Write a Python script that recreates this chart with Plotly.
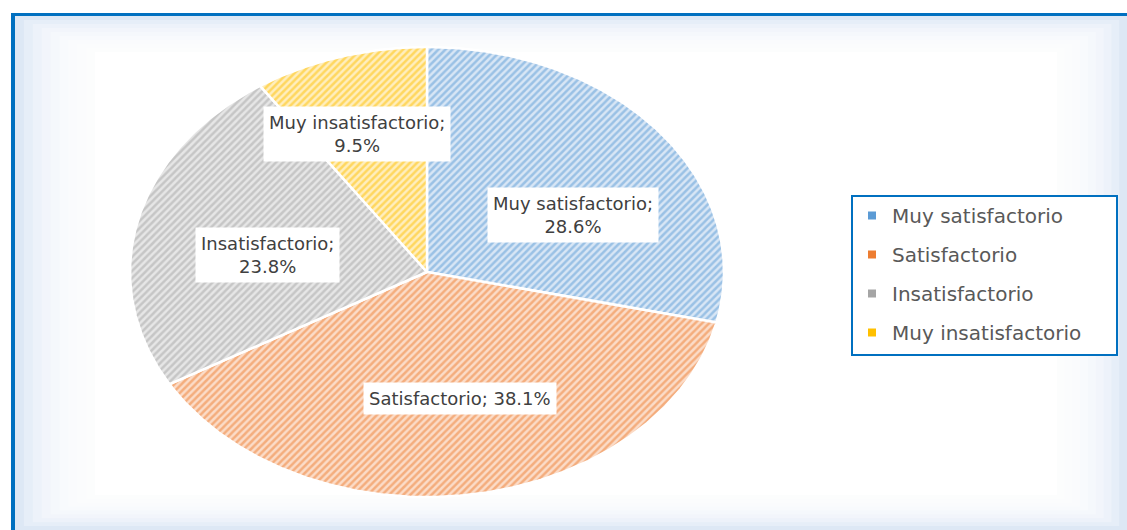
import numpy as np
import plotly.graph_objects as go

# ---- data ----
categories = ["Muy satisfactorio", "Satisfactorio", "Insatisfactorio", "Muy insatisfactorio"]
values = [28.6, 38.1, 23.8, 9.5]
label_texts = ["Muy satisfactorio;<br>28.6%", "Satisfactorio; 38.1%",
               "Insatisfactorio;<br>23.8%", "Muy insatisfactorio;<br>9.5%"]

# ---- style ----
colors = ["#5B9BD5", "#ED7D31", "#A5A5A5", "#FFC000"]
tints = ["#D8E6F5", "#FBDCC8", "#E6E6E6", "#FFEEBE"]
label_frac = [(0.63, 0.41), (0.75, 0.57), (0.55, 0.34), (0.80, 0.64)]
W, H = 1127, 530
cx, cy, rx, ry = 427, 272, 297, 225
FONT = "DejaVu Sans"

fig = go.Figure()

total = sum(values)
start = 0.0
mids = []
for i, (cat, v) in enumerate(zip(categories, values)):
    a0 = 90 - start / total * 360
    a1 = 90 - (start + v) / total * 360
    mids.append((a0 + a1) / 2)
    t = np.radians(np.linspace(a0, a1, 240))
    xs = np.concatenate([[cx], cx + rx * np.cos(t), [cx]])
    ys = np.concatenate([[cy], cy - ry * np.sin(t), [cy]])
    fig.add_trace(go.Scatter(
        x=xs, y=ys, mode="lines", fill="toself",
        line=dict(color="white", width=2.5),
        fillcolor=tints[i],
        fillpattern=dict(shape="/", fgcolor=colors[i], bgcolor=tints[i],
                         size=5, solidity=0.5),
        showlegend=False, hoverinfo="skip"))
    start += v

# legend entries
for i, cat in enumerate(categories):
    fig.add_trace(go.Scatter(
        x=[None], y=[None], mode="markers", name=cat,
        marker=dict(symbol="square", size=8, color=colors[i]),
        legendgroup=cat, showlegend=True))

# data labels
for i, txt in enumerate(label_texts):
    a = np.radians(mids[i])
    fx, fy = label_frac[i]
    fig.add_annotation(
        x=cx + rx * fx * np.cos(a), y=cy - ry * fy * np.sin(a),
        xref="x", yref="y", text=txt, showarrow=False,
        font=dict(family=FONT, size=18, color="#404040"),
        bgcolor="white", borderpad=5, align="center")

# background glow
shapes = [dict(type="rect", xref="x", yref="y", x0=15, x1=W + 5, y0=16, y1=H + 5,
               fillcolor="#DDE8F5", line=dict(width=0), layer="below")]
N = 9
for k in range(1, N + 1):
    shapes.append(dict(type="rect", xref="x", yref="y",
                       x0=15 + k * 80 / N, x1=W - k * 70 / N,
                       y0=16 + k * 36 / N, y1=H - k * 35 / N,
                       fillcolor="white", opacity=0.28 if k < N else 1.0,
                       line=dict(width=0), layer="below"))
shapes.append(dict(type="line", xref="x", yref="y", x0=11, x1=W + 5, y0=14.5, y1=14.5,
                   line=dict(color="#0070C0", width=3), layer="above"))
shapes.append(dict(type="line", xref="x", yref="y", x0=13, x1=13, y0=13, y1=H + 5,
                   line=dict(color="#0070C0", width=4), layer="above"))
# legend frame
shapes.append(dict(type="rect", xref="x", yref="y", x0=852, x1=1117, y0=196, y1=355,
                   fillcolor="white", line=dict(color="#0070C0", width=2), layer="below"))

fig.update_layout(
    width=W, height=H, autosize=False,
    margin=dict(l=0, r=0, t=0, b=0),
    paper_bgcolor="white", plot_bgcolor="rgba(0,0,0,0)",
    xaxis=dict(range=[0, W], visible=False, fixedrange=True),
    yaxis=dict(range=[H, 0], visible=False, fixedrange=True),
    shapes=shapes,
    legend=dict(x=852 / W, y=1 - 196 / H, xanchor="left", yanchor="top",
                borderwidth=0, bgcolor="rgba(0,0,0,0)",
                font=dict(family=FONT, size=20, color="#595959"),
                tracegroupgap=10, itemwidth=30),
)

fig.write_html("out.html", config={"displayModeBar": False},
               post_script="document.body.style.margin='0';"
                           "document.body.style.overflow='hidden';")
